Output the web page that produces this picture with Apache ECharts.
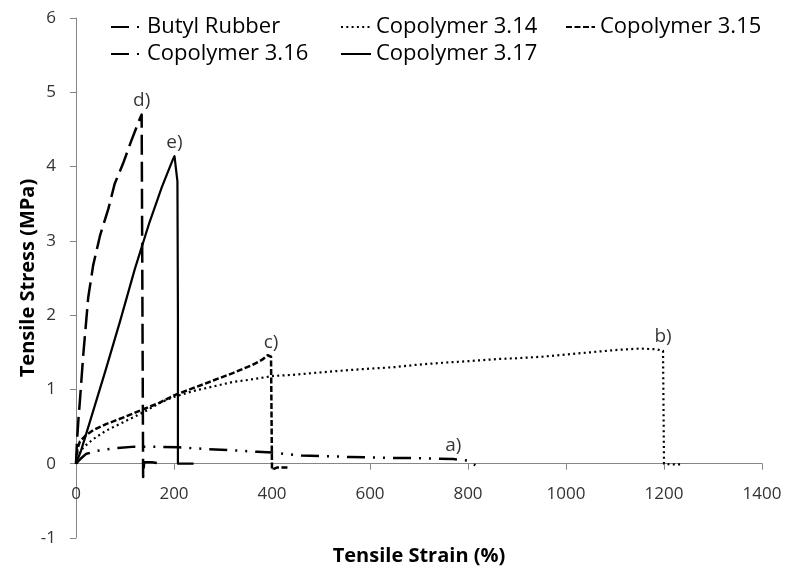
<!DOCTYPE html>
<html>
<head>
<meta charset="utf-8">
<script src="https://cdn.jsdelivr.net/npm/echarts@6/dist/echarts.min.js"></script>
<style>
  html, body { margin: 0; padding: 0; background: #fff; }
  #chart { width: 786px; height: 567px; }
</style>
</head>
<body>
<div id="chart"></div>
<script>
// Tensile stress-strain curves: [strain %, stress MPa]
const butylRubber = [
  [0, 0], [10, 0.07], [20, 0.13], [40, 0.17], [60, 0.19], [85, 0.21], [120, 0.23], [160, 0.23],
  [210, 0.22], [260, 0.2], [320, 0.18], [370, 0.16], [400, 0.15], [460, 0.11], [500, 0.105],
  [560, 0.09], [600, 0.085], [650, 0.078], [690, 0.075], [740, 0.066], [770, 0.062], [790, 0.05],
  [800, 0.04], [815, -0.02]
];
const copolymer314 = [
  [0, 0], [5, 0.12], [15, 0.22], [35, 0.33], [60, 0.44], [100, 0.57], [140, 0.7], [171, 0.82],
  [200, 0.9], [240, 0.98], [280, 1.04], [320, 1.1], [354, 1.13], [401, 1.18], [450, 1.2],
  [500, 1.23], [557, 1.26], [600, 1.28], [650, 1.3], [692, 1.33], [750, 1.36], [800, 1.38],
  [862, 1.41], [900, 1.42], [950, 1.44], [1000, 1.47], [1050, 1.5], [1100, 1.53], [1150, 1.55],
  [1185, 1.54], [1198, 1.52], [1200, 0], [1215, -0.01], [1235, -0.01]
];
const copolymer315 = [
  [0, 0], [3, 0.2], [8, 0.3], [20, 0.38], [35, 0.45], [60, 0.53], [100, 0.63], [140, 0.74],
  [170, 0.82], [200, 0.92], [240, 1.02], [280, 1.12], [320, 1.22], [360, 1.33], [380, 1.4],
  [391, 1.46], [398, 1.44], [400, -0.08], [403, -0.1], [411, -0.05], [435, -0.05]
];
const copolymer316 = [
  [0, 0], [2, 0.3], [5, 0.6], [8, 0.85], [15, 1.48], [25, 2.24], [35, 2.67], [49, 3.07],
  [66, 3.43], [79, 3.77], [96, 4.04], [113, 4.35], [130, 4.64], [134, 4.7], [136, 4.68],
  [137, -0.18], [139, 0.02], [155, 0.02], [165, 0.01]
];
const copolymer317 = [
  [0, 0], [10, 0.17], [30, 0.6], [60, 1.25], [90, 1.92], [120, 2.62], [150, 3.25], [175, 3.72],
  [190, 3.97], [198, 4.1], [201, 4.14], [204, 4.12], [207, 3.8], [208, 2.0], [208, 0], [212, 0],
  [240, 0]
];

const seriesNames = ['Butyl Rubber', 'Copolymer 3.14', 'Copolymer 3.15', 'Copolymer 3.16', 'Copolymer 3.17'];
const seriesData = [butylRubber, copolymer314, copolymer315, copolymer316, copolymer317];
const curveLabels = ['a)', 'b)', 'c)', 'd)', 'e)'];
const curveLabelStrain = [770, 1198, 398, 134, 201];

const xAxisRange = [0, 1400, 200];
const yAxisRange = [-1, 6, 1];

const FONT = "'Open Sans', 'Noto Sans', sans-serif";
const AXIS_GREY = '#868686';

const lineStyles = [
  { width: 2.5, type: [18, 8, 2, 8, 2, 8] },
  { width: 2.2, type: [2, 3.3] },
  { width: 2.5, type: [6, 2.5] },
  { width: 2.5, type: [20, 7] },
  { width: 2.2, type: 'solid' }
];

const chart = echarts.init(document.getElementById('chart'), null, { renderer: 'canvas' });

const lineSeries = seriesNames.map((name, i) => ({
  type: 'line',
  name,
  data: seriesData[i],
  symbol: 'none',
  smooth: false,
  animation: false,
  itemStyle: { color: '#000' },
  lineStyle: Object.assign({ color: '#000', cap: 'butt', join: 'round' }, lineStyles[i])
}));

// curve tags placed over the chosen point of each curve
const tagPoints = seriesData.map((d, i) => {
  const p = d.find(pt => pt[0] === curveLabelStrain[i]);
  return { value: p, label: { formatter: curveLabels[i] } };
});

const tagSeries = {
  type: 'scatter',
  name: 'tags',
  data: tagPoints,
  symbol: 'circle',
  symbolSize: 1,
  silent: true,
  animation: false,
  itemStyle: { color: 'transparent' },
  label: {
    show: true,
    position: 'top',
    distance: 4,
    fontFamily: FONT,
    fontSize: 19,
    color: '#000'
  },
  z: 5
};

function legendColumn(left, iconWidth, items) {
  return {
    orient: 'vertical',
    left,
    top: 16,
    padding: 0,
    itemGap: 5,
    itemWidth: iconWidth,
    itemHeight: 14,
    itemStyle: { opacity: 0 },
    selectedMode: false,
    textStyle: { fontFamily: FONT, fontSize: 22, color: '#000', lineHeight: 22 },
    data: items
  };
}

const option = {
  backgroundColor: '#fff',
  animation: false,
  grid: { left: 76, right: 24, top: 18, bottom: 29, containLabel: false, outerBoundsMode: 'none' },
  legend: [
    legendColumn(110, 31, [
      seriesNames[0],
      { name: seriesNames[3], lineStyle: { type: [18, 8, 2, 8] } }
    ]),
    legendColumn(340, 30, [seriesNames[1], seriesNames[4]]),
    legendColumn(565, 29, [seriesNames[2]])
  ],
  xAxis: {
    type: 'value',
    min: xAxisRange[0],
    max: xAxisRange[1],
    interval: xAxisRange[2],
    name: 'Tensile Strain (%)',
    nameLocation: 'middle',
    nameGap: 8,
    nameMoveOverlap: false,
    nameTextStyle: { fontFamily: FONT, fontSize: 20, fontWeight: 'bold', color: '#000' },
    axisLine: { show: true, onZero: true, lineStyle: { color: AXIS_GREY, width: 1 } },
    axisTick: { show: true, inside: false, length: 6, lineStyle: { color: AXIS_GREY } },
    // tick labels sit just under the zero line
    axisLabel: { fontFamily: FONT, fontSize: 17, color: '#333', margin: -52, formatter: v => String(v) },
    splitLine: { show: false }
  },
  yAxis: {
    type: 'value',
    min: yAxisRange[0],
    max: yAxisRange[1],
    interval: yAxisRange[2],
    name: 'Tensile Stress (MPa)',
    nameLocation: 'middle',
    nameGap: 38,
    nameMoveOverlap: false,
    nameTextStyle: { fontFamily: FONT, fontSize: 20, fontWeight: 'bold', color: '#000' },
    axisLine: { show: true, onZero: false, lineStyle: { color: AXIS_GREY, width: 1 } },
    axisTick: { show: true, inside: false, length: 6, lineStyle: { color: AXIS_GREY } },
    axisLabel: { fontFamily: FONT, fontSize: 17, color: '#333', margin: 20, formatter: v => String(v) },
    splitLine: { show: false }
  },
  series: lineSeries.concat([tagSeries])
};

chart.setOption(option);
</script>
</body>
</html>
